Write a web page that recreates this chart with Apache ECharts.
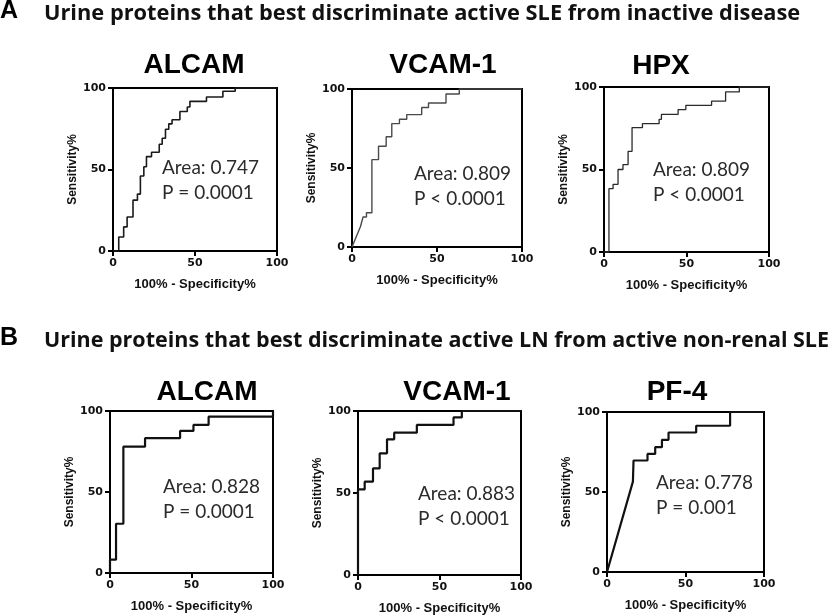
<!DOCTYPE html>
<html>
<head>
<meta charset="utf-8">
<title>ROC urine proteins</title>
<script src="https://cdn.jsdelivr.net/npm/echarts@6/dist/echarts.min.js"></script>
<style>
  html, body { margin: 0; padding: 0; background: #fff; }
  #main { width: 840px; height: 616px; }
</style>
</head>
<body>
<div id="main"></div>
<script>
// section headings
var sectionLetters = ['A', 'B'];
var sectionTitles = [
  'Urine proteins that best discriminate active SLE from inactive disease',
  'Urine proteins that best discriminate active LN from active non-renal SLE'
];

// one entry per panel: A1 A2 A3 B1 B2 B3
var panelNames = ['ALCAM', 'VCAM-1', 'HPX', 'ALCAM', 'VCAM-1', 'PF-4'];
var areaLabels = ['Area: 0.747', 'Area: 0.809', 'Area: 0.809', 'Area: 0.828', 'Area: 0.883', 'Area: 0.778'];
var pLabels = ['P = 0.0001', 'P < 0.0001', 'P < 0.0001', 'P = 0.0001', 'P < 0.0001', 'P = 0.001'];
var axisTicks = [0, 50, 100];

// ROC points (100% - specificity, sensitivity)
var fprA1 = [0, 3.5, 3.5, 6.5, 6.5, 8.6, 8.6, 12.2, 12.2, 14.9, 14.9, 16.7, 16.7, 18.8, 18.8, 20.4, 20.4, 23.5, 23.5, 28.2, 28.2, 30, 30, 32, 32, 34, 34, 36, 36, 40.8, 40.8, 45.3, 45.3, 46.9, 46.9, 57, 57, 67, 67, 74.5, 74.5, 100];
var tprA1 = [0, 0, 8.6, 8.6, 14.8, 14.8, 20.9, 20.9, 31.2, 31.2, 34.9, 34.9, 46, 46, 51.7, 51.7, 57.9, 57.9, 60.6, 60.6, 65.5, 65.5, 69.2, 69.2, 74.7, 74.7, 78, 78, 80.5, 80.5, 85.6, 85.6, 88.3, 88.3, 91.8, 91.8, 94.5, 94.5, 98, 98, 100, 100];

var fprA2 = [0, 5, 6.5, 8.5, 8.5, 11.7, 11.7, 15.6, 15.6, 20.1, 20.1, 23.4, 23.4, 27.9, 27.9, 32.2, 32.2, 41, 41, 45, 45, 55.3, 55.3, 63.1, 63.1, 100];
var tprA2 = [0, 13, 19, 19, 21.7, 21.7, 55.3, 55.3, 63.8, 63.8, 69.8, 69.8, 78.1, 78.1, 80.9, 80.9, 83.8, 83.8, 88.3, 88.3, 91.1, 91.1, 96.8, 96.8, 100, 100];

var fprA3 = [0, 3, 3, 5.5, 5.5, 8.5, 8.5, 11.5, 11.5, 14.6, 14.6, 17, 17, 23.3, 23.3, 33.4, 33.4, 34.8, 34.8, 44.9, 44.9, 49.6, 49.6, 65.2, 65.2, 73.7, 73.7, 82, 82, 100];
var tprA3 = [0, 0, 38.4, 38.4, 41, 41, 50, 50, 53, 53, 61, 61, 75.4, 75.4, 77.8, 77.8, 80.4, 80.4, 83.4, 83.4, 86.3, 86.3, 88.9, 88.9, 91.5, 91.5, 97, 97, 100, 100];

var fprB1 = [0, 0, 3.7, 3.7, 8.2, 8.2, 21.5, 21.5, 43, 43, 51.2, 51.2, 60.5, 60.5, 100, 100];
var tprB1 = [0, 8.2, 8.2, 30.4, 30.4, 78, 78, 83.2, 83.2, 87.7, 87.7, 91.4, 91.4, 96.5, 96.5, 100];

var fprB2 = [0, 0, 4.1, 4.1, 9.2, 9.2, 13.3, 13.3, 17.8, 17.8, 22.2, 22.2, 36.1, 36.1, 58.6, 58.6, 63.7, 63.7, 100];
var tprB2 = [0, 52.2, 52.2, 56.9, 56.9, 65, 65, 74.2, 74.2, 82.7, 82.7, 86.8, 86.8, 91.5, 91.5, 96.1, 96.1, 100, 100];

var fprB3 = [0, 16.5, 16.9, 16.9, 25.8, 25.8, 30.7, 30.7, 35, 35, 39.2, 39.2, 56.8, 56.8, 78.4, 78.4, 100];
var tprB3 = [0, 56.5, 56.5, 69.7, 69.7, 73.8, 73.8, 78, 78, 82.6, 82.6, 87.2, 87.2, 91.4, 91.4, 100, 100];

var fprAll = [fprA1, fprA2, fprA3, fprB1, fprB2, fprB3];
var tprAll = [tprA1, tprA2, tprA3, tprB1, tprB2, tprB3];

// layout of each panel (plot box, title centre, text anchor)
var boxes = [
  { left: 113, top: 88, width: 164, height: 163 },
  { left: 352, top: 89, width: 170, height: 158 },
  { left: 604, top: 87, width: 165, height: 165 },
  { left: 110, top: 411, width: 163, height: 162 },
  { left: 358, top: 411, width: 163, height: 164 },
  { left: 607, top: 412, width: 157, height: 160 }
];
var titlePos = [[194, 65], [443, 65], [661, 66], [207, 392], [457, 392], [677, 392]];
var notePos = [[162, 168], [414, 174], [653, 170], [163, 487], [418, 494], [656, 483]];
var lineColors = ['#1a1a1a', '#4a4a4a', '#2a2a2a', '#111', '#111', '#111'];
var lineWidths = [1.6, 1.4, 1.3, 2.2, 2.2, 2.2];

var chart = echarts.init(document.getElementById('main'), null, { renderer: 'canvas' });

var grids = [], xAxes = [], yAxes = [], series = [], texts = [];

boxes.forEach(function (b, i) {
  grids.push({
    left: b.left, top: b.top, width: b.width, height: b.height,
    show: true, borderColor: '#000', borderWidth: 2, backgroundColor: 'transparent'
  });
  var axisBase = {
    type: 'value', gridIndex: i, min: axisTicks[0], max: axisTicks[axisTicks.length - 1],
    interval: axisTicks[1] - axisTicks[0],
    splitLine: { show: false },
    axisLine: { show: true, lineStyle: { color: '#000', width: 2 } },
    axisTick: { show: true, length: 5, lineStyle: { color: '#000', width: 2 } },
    axisLabel: { color: '#111', fontWeight: 'bold', fontSize: 11, fontFamily: 'DejaVu Sans', margin: 7 },
    nameLocation: 'middle',
    nameTextStyle: { color: '#111', fontWeight: 'bold', fontFamily: 'Liberation Sans' }
  };
  xAxes.push(Object.assign({}, axisBase, {
    name: '100% - Specificity%', nameGap: 27,
    nameTextStyle: Object.assign({}, axisBase.nameTextStyle, { fontSize: 13 })
  }));
  yAxes.push(Object.assign({}, axisBase, {
    name: 'Sensitivity%', nameGap: 33,
    nameTextStyle: Object.assign({}, axisBase.nameTextStyle, { fontSize: 12 })
  }));
  series.push({
    type: 'line', xAxisIndex: i, yAxisIndex: i,
    showSymbol: false, animation: false, clip: false,
    lineStyle: { color: lineColors[i], width: lineWidths[i] },
    data: fprAll[i].map(function (x, k) { return [x, tprAll[i][k]]; })
  });
  texts.push({
    type: 'text', x: titlePos[i][0], y: titlePos[i][1],
    style: { text: panelNames[i], font: 'bold 28px "Liberation Sans"', fill: '#000',
      align: 'center', verticalAlign: 'middle', textAlign: 'center', textVerticalAlign: 'middle' }
  });
  texts.push({
    type: 'text', x: notePos[i][0], y: notePos[i][1],
    style: { text: areaLabels[i], font: '19px Lato', fill: '#2b2b2b',
      align: 'left', verticalAlign: 'middle', textAlign: 'left', textVerticalAlign: 'middle' }
  });
  texts.push({
    type: 'text', x: notePos[i][0], y: notePos[i][1] + 25,
    style: { text: pLabels[i], font: '19px Lato', fill: '#2b2b2b',
      align: 'left', verticalAlign: 'middle', textAlign: 'left', textVerticalAlign: 'middle' }
  });
});

// section headers
var headerY = [14, 341];
var headerSize = [21.8, 21.5];
headerY.forEach(function (y, s) {
  texts.push({
    type: 'text', x: 0, y: y - 3,
    style: { text: sectionLetters[s], font: 'bold 25px "Liberation Sans"', fill: '#000',
      align: 'left', verticalAlign: 'middle', textAlign: 'left', textVerticalAlign: 'middle' }
  });
  texts.push({
    type: 'text', x: 44, y: y,
    style: { text: sectionTitles[s], font: 'bold ' + headerSize[s] + 'px "Open Sans"', fill: '#111',
      align: 'left', verticalAlign: 'middle', textAlign: 'left', textVerticalAlign: 'middle' }
  });
});

chart.setOption({
  backgroundColor: '#fff',
  animation: false,
  grid: grids,
  xAxis: xAxes,
  yAxis: yAxes,
  series: series,
  graphic: { elements: texts }
});
</script>
</body>
</html>
